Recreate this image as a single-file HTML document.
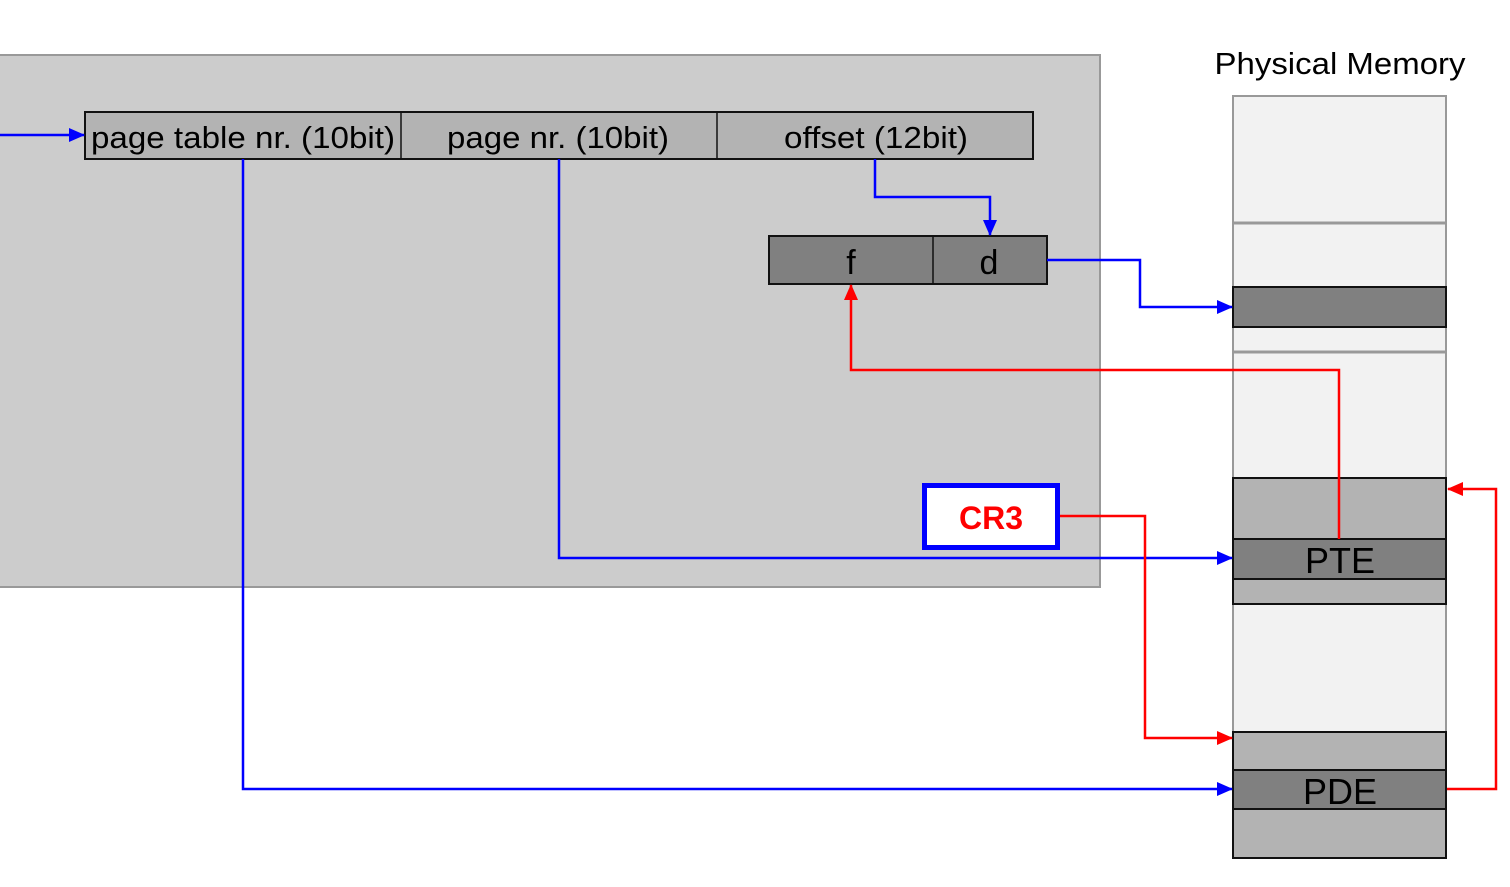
<!DOCTYPE html>
<html><head><meta charset="utf-8"><style>
html,body{margin:0;padding:0;background:#fff;width:1510px;height:887px;overflow:hidden}
svg{display:block}
text{font-family:"Liberation Sans",Arial,sans-serif}
</style></head><body>
<svg width="1510" height="887" viewBox="0 0 1510 887" xmlns="http://www.w3.org/2000/svg">
<defs>
<marker id="ab" markerWidth="16" markerHeight="14" refX="15" refY="7" orient="auto" markerUnits="userSpaceOnUse" viewBox="0 0 16 14"><path d="M0,0 L16,7 L0,14 z" fill="#0000ff"/></marker>
<marker id="ar" markerWidth="16" markerHeight="14" refX="15" refY="7" orient="auto" markerUnits="userSpaceOnUse" viewBox="0 0 16 14"><path d="M0,0 L16,7 L0,14 z" fill="#ff0000"/></marker>
</defs>
<rect x="-2" y="55" width="1102" height="532" fill="#cccccc" stroke="#999" stroke-width="2"/>
<rect x="85" y="112" width="948" height="47" fill="#b3b3b3" stroke="#111" stroke-width="2"/>
<line x1="401" y1="112" x2="401" y2="159" stroke="#111" stroke-width="1.5"/>
<line x1="717" y1="112" x2="717" y2="159" stroke="#111" stroke-width="1.5"/>
<text x="243" y="148" font-size="31" text-anchor="middle" textLength="304" lengthAdjust="spacingAndGlyphs">page table nr. (10bit)</text>
<text x="558" y="148" font-size="31" text-anchor="middle" textLength="222" lengthAdjust="spacingAndGlyphs">page nr. (10bit)</text>
<text x="876" y="148" font-size="31" text-anchor="middle" textLength="184" lengthAdjust="spacingAndGlyphs">offset (12bit)</text>
<rect x="769" y="236" width="278" height="48" fill="#808080" stroke="#111" stroke-width="2"/>
<line x1="933" y1="236" x2="933" y2="284" stroke="#111" stroke-width="1.5"/>
<text x="851" y="274" font-size="34" text-anchor="middle">f</text>
<text x="989" y="274" font-size="34" text-anchor="middle">d</text>
<rect x="924.5" y="485.5" width="133" height="62" fill="#fff" stroke="#0000ff" stroke-width="5"/>
<text x="991" y="529" font-size="32" font-weight="bold" fill="#ff0000" text-anchor="middle">CR3</text>
<text x="1340" y="74" font-size="31" text-anchor="middle" textLength="251" lengthAdjust="spacingAndGlyphs">Physical Memory</text>
<rect x="1233" y="96" width="213" height="762" fill="#f2f2f2" stroke="#999" stroke-width="2"/>
<line x1="1233" y1="223" x2="1446" y2="223" stroke="#999" stroke-width="3"/>
<line x1="1233" y1="352" x2="1446" y2="352" stroke="#999" stroke-width="3"/>
<rect x="1233" y="287" width="213" height="40" fill="#808080" stroke="#111" stroke-width="2"/>
<rect x="1233" y="478" width="213" height="61" fill="#b3b3b3" stroke="#111" stroke-width="2"/>
<rect x="1233" y="539" width="213" height="40" fill="#808080" stroke="#111" stroke-width="2"/>
<rect x="1233" y="579" width="213" height="25" fill="#b3b3b3" stroke="#111" stroke-width="2"/>
<rect x="1233" y="732" width="213" height="38" fill="#b3b3b3" stroke="#111" stroke-width="2"/>
<rect x="1233" y="770" width="213" height="39" fill="#808080" stroke="#111" stroke-width="2"/>
<rect x="1233" y="809" width="213" height="49" fill="#b3b3b3" stroke="#111" stroke-width="2"/>
<text x="1340" y="573" font-size="36" text-anchor="middle">PTE</text>
<text x="1340" y="804" font-size="36" text-anchor="middle">PDE</text>
<g fill="none" stroke="#0000ff" stroke-width="2.5">
<polyline points="0,135 84,135" marker-end="url(#ab)"/>
<polyline points="243,159 243,789 1232,789" marker-end="url(#ab)"/>
<polyline points="559,159 559,558 1232,558" marker-end="url(#ab)"/>
<polyline points="875,159 875,197 990,197 990,235" marker-end="url(#ab)"/>
<polyline points="1047,260 1140,260 1140,307 1232,307" marker-end="url(#ab)"/>
</g>
<g fill="none" stroke="#ff0000" stroke-width="2.5">
<polyline points="1339,539 1339,370 851,370 851,285" marker-end="url(#ar)"/>
<polyline points="1060,516 1145,516 1145,738 1232,738" marker-end="url(#ar)"/>
<polyline points="1447,789 1496,789 1496,489 1448,489" marker-end="url(#ar)"/>
</g>
</svg>
</body></html>
